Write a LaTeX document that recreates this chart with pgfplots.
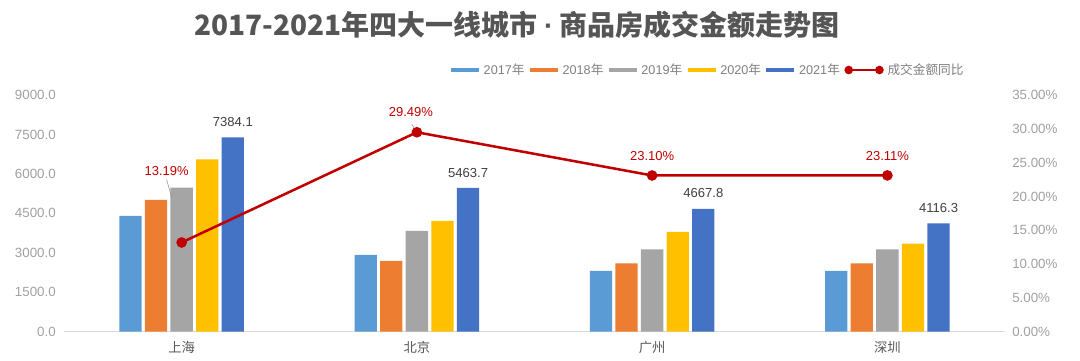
\documentclass[border=0pt]{standalone}
\usepackage{fontspec}
\usepackage{pgfplots}
\pgfplotsset{compat=1.18}
\setmainfont{Liberation Sans}
\newfontfamily\cjk{Noto Sans CJK SC}
\definecolor{c17}{HTML}{5B9BD5}
\definecolor{c18}{HTML}{ED7D31}
\definecolor{c19}{HTML}{A5A5A5}
\definecolor{c20}{HTML}{FFC000}
\definecolor{c21}{HTML}{4472C4}
\definecolor{lred}{HTML}{C00000}
\definecolor{titlegray}{HTML}{555555}
\definecolor{tickgray}{HTML}{A0A0A0}
\definecolor{catgray}{HTML}{595959}
\definecolor{leggray}{HTML}{7F7F7F}
\definecolor{valgray}{HTML}{404040}
\pgfplotsset{
  barleg/.style={legend image code/.code={\fill[##1] (0bp,-1.75bp) rectangle (21bp,1.75bp);}},
  lineleg/.style={legend image code/.code={\draw[##1, line width=1.2bp, mark size=2.6bp] plot coordinates {(0bp,0bp) (23bp,0bp)};}},
  common/.style={
    at={(48bp,22bp)}, anchor=south west, scale only axis,
    width=705.75bp, height=177.5bp,
    xmin=-0.5, xmax=3.5,
    major tick length=0pt, tick style={draw=none},
  }
}
\begin{document}
\begin{tikzpicture}
\useasboundingbox (0,0) rectangle (810bp,270.75bp);
\node[font=\cjk\bfseries\fontsize{21bp}{25bp}\selectfont, text=titlegray] at (388bp,252.4bp) {2017-2021年四大一线城市 {\rmfamily\bfseries ·} 商品房成交金额走势图};
\begin{axis}[common,
  ybar=2.5bp, bar width=16.7bp,
  ymin=0, ymax=9000, ytick={0,1500,3000,4500,6000,7500,9000},
  scaled y ticks=false,
  xtick={0,1,2,3}, xticklabels={上海,北京,广州,深圳},
  axis x line*=bottom, axis y line*=left,
  x axis line style={draw=black!15, line width=0.75bp, -},
  y axis line style={draw=none},
  xticklabel style={font=\cjk\fontsize{10bp}{12bp}\selectfont, text=catgray, anchor=center, yshift=-12bp},
  yticklabel style={font=\fontsize{10bp}{12bp}\selectfont, text=tickgray, anchor=east, inner sep=0pt, xshift=-6bp},
  yticklabel={\pgfmathprintnumber[fixed,fixed zerofill,precision=1,1000 sep={},assume math mode=true]{\tick}},
]
\addplot[fill=c17, draw=none] coordinates {(0,4399) (1,2916) (2,2308) (3,2308)};
\addplot[fill=c18, draw=none] coordinates {(0,5008) (1,2688) (2,2601) (3,2601)};
\addplot[fill=c19, draw=none] coordinates {(0,5475) (1,3829) (2,3133) (3,3133)};
\addplot[fill=c20, draw=none] coordinates {(0,6555) (1,4209) (2,3791) (3,3346)};
\addplot[fill=c21, draw=none,
  nodes near coords={\pgfmathprintnumber[fixed,fixed zerofill,precision=1,1000 sep={},assume math mode=true]{\pgfplotspointmeta}},
  every node near coord/.append style={font=\fontsize{9.8bp}{11bp}\selectfont, text=valgray, anchor=center, yshift=11.6bp}]
  coordinates {(0,7384.1) (1,5463.7) (2,4667.8) (3,4116.3)};
\end{axis}
\begin{axis}[common,
  ymin=0, ymax=35, ytick={0,5,10,15,20,25,30,35},
  axis x line=none, axis y line*=right,
  y axis line style={draw=none},
  yticklabel style={font=\fontsize{10bp}{12bp}\selectfont, text=tickgray, anchor=west, inner sep=0pt, xshift=5.25bp},
  yticklabel={\pgfmathprintnumber[fixed,fixed zerofill,precision=2,assume math mode=true]{\tick}\%},
  legend style={at={(0.684,1.1056)}, anchor=center, draw=none, fill=none,
    font=\fontsize{9.5bp}{11bp}\selectfont, text=leggray, inner sep=0pt,
    /tikz/every odd column/.append style={column sep=3bp},
    /tikz/every even column/.append style={column sep=3.5bp},
    nodes={inner sep=0.5bp}},
  legend columns=6,
]
\addlegendimage{barleg, fill=c17, draw=none}
\addlegendentry{2017{\cjk 年}}
\addlegendimage{barleg, fill=c18, draw=none}
\addlegendentry{2018{\cjk 年}}
\addlegendimage{barleg, fill=c19, draw=none}
\addlegendentry{2019{\cjk 年}}
\addlegendimage{barleg, fill=c20, draw=none}
\addlegendentry{2020{\cjk 年}}
\addlegendimage{barleg, fill=c21, draw=none}
\addlegendentry{2021{\cjk 年}}
\addplot[lineleg, color=lred, line width=1.9bp, mark=*, mark size=3bp, mark options={fill=lred}]
  coordinates {(0,13.19) (1,29.49) (2,23.10) (3,23.11)};
\addlegendentry{{\cjk 成交金额同比}}
\node[font=\fontsize{9.75bp}{11bp}\selectfont, text=lred] at ([xshift=-11.25bp,yshift=53.5bp]axis cs:0,13.19) {13.19\%};
\node[font=\fontsize{9.75bp}{11bp}\selectfont, text=lred] at ([xshift=-4.5bp,yshift=15bp]axis cs:1,29.49) {29.49\%};
\node[font=\fontsize{9.75bp}{11bp}\selectfont, text=lred] at ([yshift=14.85bp]axis cs:2,23.10) {23.10\%};
\node[font=\fontsize{9.75bp}{11bp}\selectfont, text=lred] at ([yshift=14.5bp]axis cs:3,23.11) {23.11\%};
\draw[black!45, line width=0.4bp] ([xshift=-11.25bp,yshift=47.25bp]axis cs:0,13.19) -- ([xshift=-7.5bp,yshift=33.75bp]axis cs:0,13.19);
\draw[black!45, line width=0.4bp] ([xshift=-3.75bp,yshift=6bp]axis cs:1,29.49) -- ([xshift=-1.5bp,yshift=2.25bp]axis cs:1,29.49);
\end{axis}
\end{tikzpicture}
\end{document}
